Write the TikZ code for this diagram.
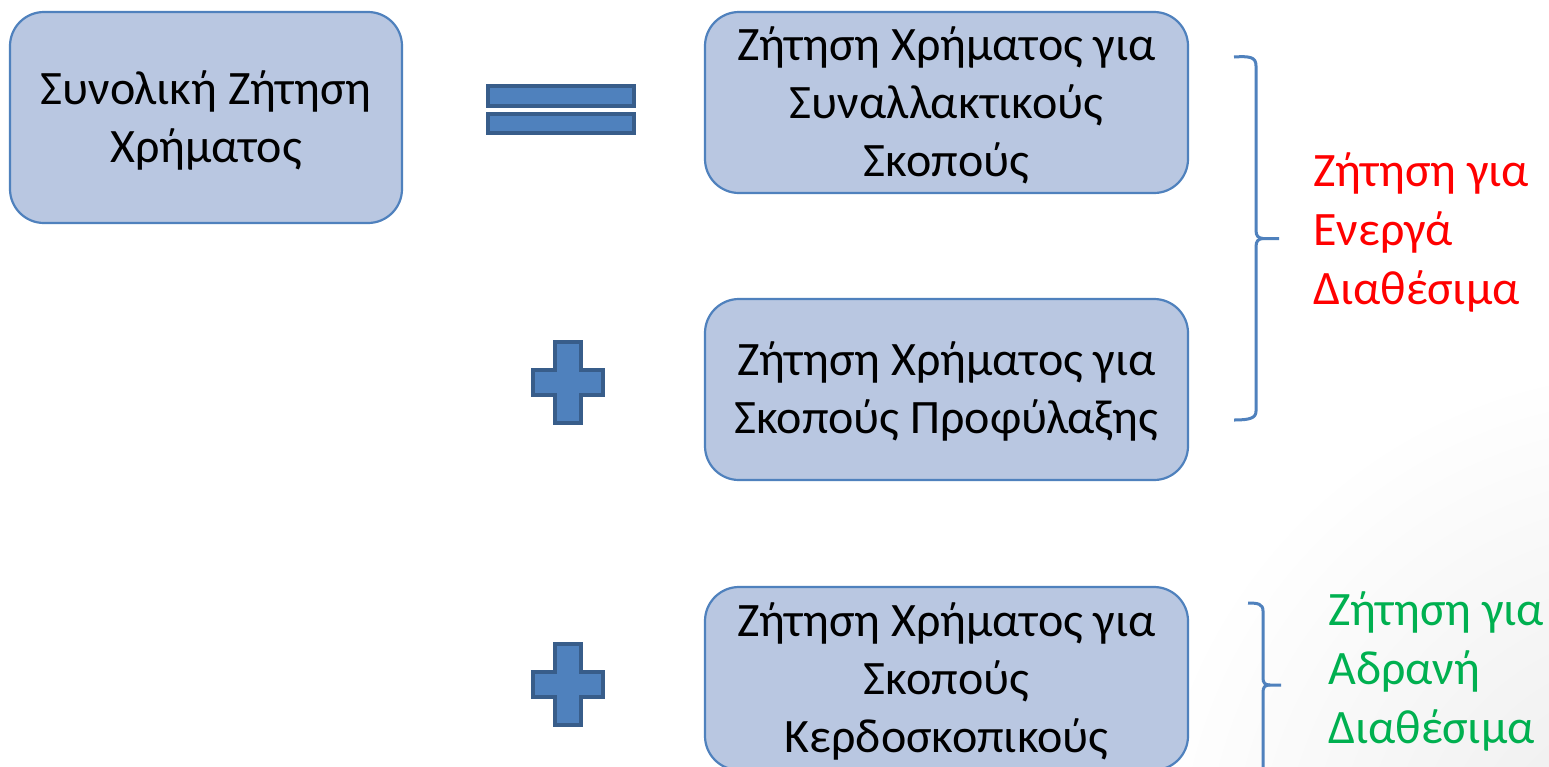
\documentclass[tikz,border=0pt]{standalone}
\usepackage{fontspec}
\setmainfont{Carlito}
\begin{document}
\begin{tikzpicture}[x=1pt,y=-1pt,
  box/.style={draw=boxline, line width=2.2pt, fill=boxfill, rounded corners=34pt},
  txt/.style={font=\fontsize{48}{58}\selectfont, align=center},
  sidetxt/.style={font=\fontsize{48}{59}\selectfont, align=left, anchor=north west, inner sep=0pt},
  sym/.style={draw=symline, line width=3.5pt, fill=symfill},
  brace/.style={draw=boxline, line width=3pt}]
\definecolor{boxfill}{HTML}{B9C7E1}
\definecolor{boxline}{HTML}{4F81BD}
\definecolor{symfill}{HTML}{4F81BD}
\definecolor{symline}{HTML}{385D8A}
\definecolor{redtxt}{HTML}{FF0000}
\definecolor{greentxt}{HTML}{00B050}
\useasboundingbox (0,0) rectangle (1549,766);
\fill[white] (0,0) rectangle (1549,766);
% soft shade in the lower right corner
\begin{scope}
  \clip (0,0) rectangle (1549,766);
  \shade[inner color=black!8, outer color=white] (1660,880) circle (520);
\end{scope}

% boxes
\draw[box] (10,12) rectangle (402,223);
\node[txt] (total) at (206,120) {Συνολική Ζήτηση\\Χρήματος};
\draw[box] (705,12) rectangle (1188,193);
\node[txt] (trans) at (946.5,105) {Ζήτηση Χρήματος για\\Συναλλακτικούς\\Σκοπούς};
\draw[box] (705,299) rectangle (1188,480);
\node[txt] (prec) at (946.5,391) {Ζήτηση Χρήματος για\\Σκοπούς Προφύλαξης};
\draw[box] (705,587) rectangle (1188,770);
\node[txt] (spec) at (946.5,681) {Ζήτηση Χρήματος για\\Σκοπούς\\Κερδοσκοπικούς};

% equals sign
\draw[sym] (488,86) rectangle (634,106);
\draw[sym] (488,114) rectangle (634,133);

% plus signs
\foreach \cy in {383,685} {
  \draw[sym] (555,{\cy-41}) -- (581,{\cy-41}) -- (581,{\cy-13}) -- (603,{\cy-13})
    -- (603,{\cy+12}) -- (581,{\cy+12}) -- (581,{\cy+40}) -- (555,{\cy+40})
    -- (555,{\cy+12}) -- (533,{\cy+12}) -- (533,{\cy-13}) -- (555,{\cy-13}) -- cycle;
}

% braces
\draw[brace] (1234,57) .. controls (1250,56) and (1256,57) .. (1256,66)
  -- (1256,230) .. controls (1256,236) and (1258,238) .. (1263,238.5) -- (1279,238.5);
\draw[brace] (1263,238.5) .. controls (1258,239) and (1256,241) .. (1256,247)
  -- (1256,411) .. controls (1256,418) and (1250,420) .. (1234,420);
\draw[brace] (1248,603) .. controls (1258,603) and (1263,604) .. (1263,611)
  -- (1263,678) .. controls (1263,683) and (1265,685) .. (1270,685) -- (1281,685);
\draw[brace] (1270,685) .. controls (1265,685) and (1263,687) .. (1263,692) -- (1263,770);

% side labels
\node[sidetxt, text=redtxt] (active) at (1313,152) {Ζήτηση για\\Ενεργά\\Διαθέσιμα};
\node[sidetxt, text=greentxt] (idle) at (1328,591) {Ζήτηση για\\Αδρανή\\Διαθέσιμα};
\end{tikzpicture}
\end{document}
